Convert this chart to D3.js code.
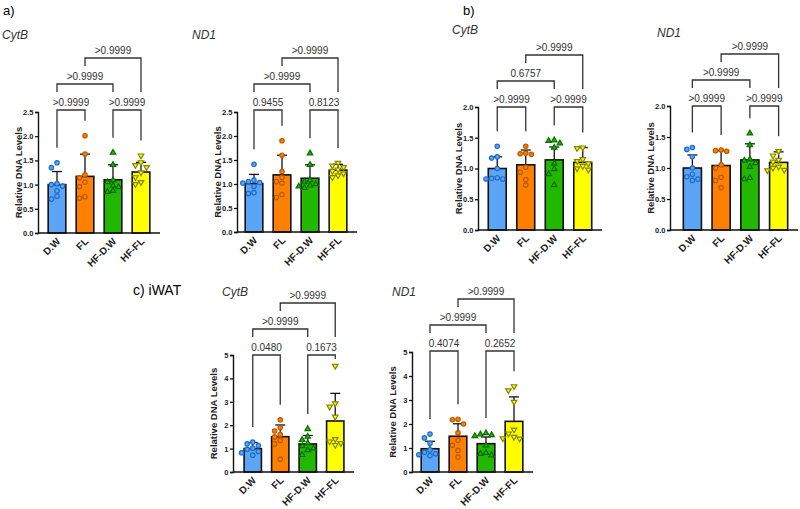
<html>
<head>
<meta charset="UTF-8">
<title>Relative DNA levels</title>
<script src="https://d3js.org/d3.v7.min.js"></script>
<style>
    body { margin: 0; background: #fff; }
    svg { font-family: "Liberation Sans", Arial, sans-serif; }
</style>
</head>
<body>
<div id="chart"></div>
<script>
// groups on the x axis
var groups = ["D.W", "FL", "HF-D.W", "HF-FL"];

// ----- a) CytB -----
var aCytbMean = [1.0, 1.17, 1.1, 1.26];
var aCytbSd = [0.27, 0.46, 0.31, 0.2];
var aCytbPoints = [
    [1.45, 1.35, 1.02, 1.0, 0.97, 0.87, 0.76, 0.7],
    [2.01, 1.63, 1.2, 1.14, 1.05, 0.96, 0.75, 0.72],
    [1.66, 1.41, 1.09, 1.05, 0.98, 0.95, 0.87, 0.85],
    [1.6, 1.46, 1.4, 1.36, 1.25, 1.15, 1.05, 1.01]
];
// p values: D.W vs FL, HF-D.W vs HF-FL, D.W vs HF-D.W, FL vs HF-FL
var aCytbP = [">0.9999", ">0.9999", ">0.9999", ">0.9999"];

// ----- a) ND1 -----
var aNd1Mean = [1.01, 1.19, 1.12, 1.29];
var aNd1Sd = [0.19, 0.41, 0.28, 0.12];
var aNd1Points = [
    [1.41, 1.08, 1.05, 1.03, 1.02, 0.95, 0.82, 0.8],
    [1.9, 1.6, 1.26, 1.14, 1.05, 1.02, 0.78, 0.72],
    [1.64, 1.4, 1.08, 1.05, 1.0, 0.97, 0.95, 0.92],
    [1.44, 1.38, 1.35, 1.3, 1.27, 1.22, 1.18, 1.14]
];
var aNd1P = ["0.9455", "0.8123", ">0.9999", ">0.9999"];

// ----- b) CytB -----
var bCytbMean = [1.0, 1.06, 1.14, 1.1];
var bCytbSd = [0.19, 0.24, 0.21, 0.24];
var bCytbPoints = [
    [1.36, 1.19, 1.17, 1.0, 0.85, 0.84, 0.83, 0.83],
    [1.36, 1.25, 1.24, 1.23, 1.02, 0.94, 0.82, 0.73],
    [1.46, 1.45, 1.41, 1.34, 1.08, 0.99, 0.91, 0.73],
    [1.34, 1.33, 1.15, 1.12, 1.08, 1.04, 1.0, 0.98]
];
var bCytbP = [">0.9999", ">0.9999", "0.6757", ">0.9999"];

// ----- b) ND1 -----
var bNd1Mean = [1.0, 1.04, 1.13, 1.09];
var bNd1Sd = [0.21, 0.24, 0.26, 0.17];
var bNd1Points = [
    [1.33, 1.3, 1.18, 1.0, 0.9, 0.86, 0.82, 0.8],
    [1.29, 1.28, 1.27, 1.05, 1.0, 0.85, 0.8, 0.68],
    [1.56, 1.37, 1.14, 1.12, 1.08, 1.02, 0.84, 0.82],
    [1.27, 1.2, 1.13, 1.1, 1.02, 1.0, 0.97, 0.96]
];
var bNd1P = [">0.9999", ">0.9999", ">0.9999", ">0.9999"];

// ----- c) iWAT CytB -----
var cCytbMean = [1.0, 1.51, 1.2, 2.18];
var cCytbSd = [0.26, 0.5, 0.36, 1.18];
var cCytbPoints = [
    [1.28, 1.2, 1.13, 1.02, 0.97, 0.88, 0.82, 0.72],
    [2.23, 1.9, 1.75, 1.6, 1.5, 1.35, 1.2, 0.55],
    [1.84, 1.51, 1.37, 1.23, 1.11, 1.01, 0.94, 0.73],
    [4.53, 2.93, 2.79, 2.36, 1.4, 1.3, 1.23, 1.15]
];
var cCytbP = ["0.0480", "0.1673", ">0.9999", ">0.9999"];

// ----- c) iWAT ND1 -----
var cNd1Mean = [0.97, 1.49, 1.18, 2.11];
var cNd1Sd = [0.31, 0.52, 0.28, 1.02];
var cNd1Points = [
    [1.58, 1.42, 1.2, 0.92, 0.82, 0.76, 0.72, 0.68],
    [2.2, 2.18, 2.0, 1.63, 1.32, 1.11, 0.9, 0.62],
    [1.62, 1.57, 1.54, 1.5, 1.11, 0.8, 0.76, 0.7],
    [3.57, 3.4, 2.92, 1.76, 1.6, 1.46, 1.39, 1.4]
];
var cNd1P = ["0.4074", "0.2652", ">0.9999", ">0.9999"];

var yTicksSmall = [0, 0.5, 1.0, 1.5, 2.0, 2.5];
var yTicksB = [0, 0.5, 1.0, 1.5, 2.0];
var yTicksC = [0, 1, 2, 3, 4, 5];

// styling
var barColors = ["#5aa5f5", "#ff8000", "#22b800", "#ffff00"];
var dotColors = ["#1f6cc8", "#b85a00", "#0b6b00", "#858500"];
var shapes = ["circle", "circle", "up", "down"];

// panel layout (pixels)
var panels = [
    { title: "CytB", tx: 2, ty: 39, x0: 38, y0: 233, yTop: 112, max: 2.5, ticks: yTicksSmall, fmt: ".1f",
      b0: 5, b1: 117, mean: aCytbMean, sd: aCytbSd, pts: aCytbPoints, p: aCytbP, L1: 110 },
    { title: "ND1", tx: 192, ty: 39, x0: 237, y0: 232, yTop: 112, max: 2.5, ticks: yTicksSmall, fmt: ".1f",
      b0: 3, b1: 115, mean: aNd1Mean, sd: aNd1Sd, pts: aNd1Points, p: aNd1P, L1: 110 },
    { title: "CytB", tx: 452, ty: 34, x0: 478, y0: 230, yTop: 107, max: 2.0, ticks: yTicksB, fmt: ".1f",
      b0: 5, b1: 119, mean: bCytbMean, sd: bCytbSd, pts: bCytbPoints, p: bCytbP, L1: 107 },
    { title: "ND1", tx: 657, ty: 37, x0: 670, y0: 230, yTop: 106, max: 2.0, ticks: yTicksB, fmt: ".1f",
      b0: 8, b1: 123, mean: bNd1Mean, sd: bNd1Sd, pts: bNd1Points, p: bNd1P, L1: 106 },
    { title: "CytB", tx: 222, ty: 296, x0: 233, y0: 472, yTop: 355, max: 5, ticks: yTicksC, fmt: "d",
      b0: 6, b1: 116, mean: cCytbMean, sd: cCytbSd, pts: cCytbPoints, p: cCytbP, L1: 355 },
    { title: "ND1", tx: 392, ty: 296, x0: 412, y0: 472, yTop: 352, max: 5, ticks: yTicksC, fmt: "d",
      b0: 4, b1: 116, mean: cNd1Mean, sd: cNd1Sd, pts: cNd1Points, p: cNd1P, L1: 351 }
];

var svg = d3.select("#chart").append("svg")
    .attr("width", 800)
    .attr("height", 509);

// section labels
svg.append("text").attr("x", 3).attr("y", 15).attr("font-size", 13).text("a)");
svg.append("text").attr("x", 463).attr("y", 15).attr("font-size", 13).text("b)");
svg.append("text").attr("x", 133).attr("y", 295).attr("font-size", 14).text("c) iWAT");

// simple swarm so overlapping dots spread sideways
function swarm(vals, y, r) {
    var placed = [];
    var out = new Array(vals.length);
    var d = 2 * r + 0.6;
    vals.forEach(function(v, i) {
        var py = y(v);
        var cands = [0, -d, d, -2 * d, 2 * d, -3 * d, 3 * d];
        for (var k = 0; k < cands.length; k++) {
            var ok = placed.every(function(q) {
                var dx = q[0] - cands[k], dy = q[1] - py;
                return dx * dx + dy * dy >= d * d * 0.85;
            });
            if (ok || k == cands.length - 1) {
                out[i] = cands[k];
                placed.push([cands[k], py]);
                break;
            }
        }
    });
    return out;
}

panels.forEach(function(P) {
    var y = d3.scaleLinear().domain([0, P.max]).range([P.y0, P.yTop]);
    var x = d3.scaleBand().domain(groups)
        .range([P.x0 + P.b0, P.x0 + P.b1])
        .paddingInner(0.37).paddingOuter(0.185);
    var g = svg.append("g");
    var cx = function(i) { return x(groups[i]) + x.bandwidth() / 2; };

    // gene title
    g.append("text").attr("x", P.tx).attr("y", P.ty)
        .attr("font-size", 12).attr("font-style", "italic").attr("fill", "#333")
        .text(P.title);

    // bars
    g.selectAll("rect.bar").data(P.mean).enter().append("rect")
        .attr("x", function(d, i) { return x(groups[i]); })
        .attr("y", function(d) { return y(d); })
        .attr("width", x.bandwidth())
        .attr("height", function(d) { return P.y0 - y(d); })
        .attr("fill", function(d, i) { return barColors[i]; })
        .attr("stroke", "#111").attr("stroke-width", 1.6);

    // error bars (mean + SD)
    P.mean.forEach(function(m, i) {
        var top = y(m + P.sd[i]);
        g.append("line").attr("x1", cx(i)).attr("x2", cx(i))
            .attr("y1", y(m)).attr("y2", top)
            .attr("stroke", "#111").attr("stroke-width", 1.3);
        g.append("line").attr("x1", cx(i) - 5).attr("x2", cx(i) + 5)
            .attr("y1", top).attr("y2", top)
            .attr("stroke", "#111").attr("stroke-width", 1.3);
    });

    // individual values
    P.pts.forEach(function(vals, i) {
        var offs = swarm(vals, y, 2.5);
        vals.forEach(function(v, j) {
            var px = cx(i) + offs[j], py = y(v);
            if (shapes[i] == "circle") {
                g.append("circle").attr("cx", px).attr("cy", py).attr("r", 2.2)
                    .attr("fill", barColors[i]).attr("stroke", dotColors[i]).attr("stroke-width", 1.2);
            } else {
                g.append("path")
                    .attr("d", d3.symbol().type(d3.symbolTriangle).size(13)())
                    .attr("transform", "translate(" + px + "," + py + ")" + (shapes[i] == "down" ? " rotate(180)" : ""))
                    .attr("fill", barColors[i]).attr("stroke", dotColors[i]).attr("stroke-width", 1.2);
            }
        });
    });

    // y axis
    var yAxis = d3.axisLeft(y).tickValues(P.ticks).tickSize(3).tickPadding(1.5)
        .tickFormat(d3.format(P.fmt));
    var ya = g.append("g").attr("transform", "translate(" + P.x0 + ",0)").call(yAxis);
    ya.select(".domain").attr("stroke", "#111").attr("stroke-width", 1.4);
    ya.selectAll(".tick line").attr("stroke", "#111").attr("stroke-width", 1.3);
    ya.selectAll(".tick text").attr("font-size", 7.5).attr("font-weight", "bold")
        .attr("font-family", "Liberation Sans, Arial, sans-serif").attr("fill", "#222");

    // x axis line
    g.append("line").attr("x1", P.x0).attr("x2", P.x0 + P.b1 + 5)
        .attr("y1", P.y0).attr("y2", P.y0)
        .attr("stroke", "#111").attr("stroke-width", 1.4);
    groups.forEach(function(name, i) {
        g.append("text")
            .attr("transform", "translate(" + (cx(i) + 4) + "," + (P.y0 + 9) + ") rotate(-45)")
            .attr("text-anchor", "end").attr("font-size", 10).attr("font-weight", "bold")
            .attr("fill", "#222").text(name);
    });

    // y axis title
    g.append("text")
        .attr("transform", "translate(" + (P.x0 - 16) + "," + ((P.y0 + P.yTop) / 2) + ") rotate(-90)")
        .attr("text-anchor", "middle").attr("font-size", 9.5).attr("font-weight", "bold")
        .attr("fill", "#222").text("Relative DNA Levels");

    // comparison brackets
    var L1 = P.L1, L2 = P.L1 - 26, L3 = P.L1 - 52;
    function legEnd(i) {
        var mx = Math.max(d3.max(P.pts[i]), P.mean[i] + P.sd[i]);
        return Math.max(y(mx) - 15, L1 + 4);
    }
    function bracket(xa, ya1, xb, yb1, L, label) {
        g.append("path")
            .attr("d", "M" + xa + "," + ya1 + "V" + L + "H" + xb + "V" + yb1)
            .attr("fill", "none").attr("stroke", "#333").attr("stroke-width", 1.3);
        g.append("text").attr("x", (xa + xb) / 2).attr("y", L - 4)
            .attr("text-anchor", "middle").attr("font-size", 10).attr("fill", "#333")
            .text(label);
    }
    bracket(cx(0), legEnd(0), cx(1), legEnd(1), L1, P.p[0]);
    bracket(cx(2), legEnd(2), cx(3), legEnd(3), L1, P.p[1]);
    bracket(cx(0), L1 - 18, cx(2), L1 - 18, L2, P.p[2]);
    bracket(cx(1), L2 - 18, cx(3), L1 - 18, L3, P.p[3]);
});
</script>
</body>
</html>
